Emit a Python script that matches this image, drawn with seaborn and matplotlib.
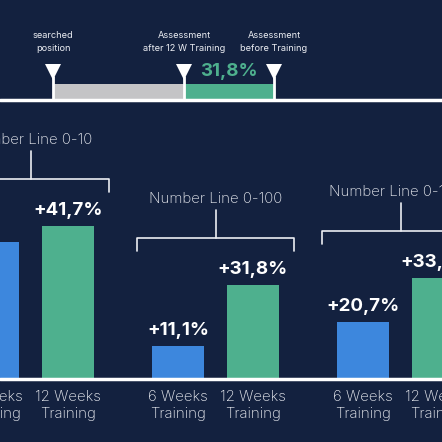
import matplotlib
matplotlib.use('Agg')
import numpy as np
import pandas as pd
import matplotlib.pyplot as plt
import seaborn as sns

BG = '#13213f'
BLUE = '#3d87dd'
GREEN = '#4eb08e'
GRAY = '#c4c4c6'
TEXT = '#eceef3'

# number line diagram, positions on a 0-100 line
marker_names = ['searched\nposition', 'Assessment\nafter 12 W Training', 'Assessment\nbefore Training']
marker_pos = [12.0, 41.6, 62.0]
gap_label = '31,8%'

# bar groups
groups = ['Number Line 0-10', 'Number Line 0-100', 'Number Line 0-1000']
trainings = ['6 Weeks\nTraining', '12 Weeks\nTraining']
gain_labels = [['+37,5%', '+41,7%'], ['+11,1%', '+31,8%'], ['+20,7%', '+33,9%']]
bar_heights = [[46.3, 51.7], [11.1, 31.8], [19.3, 34.1]]

sns.set_theme(style='white', rc={'axes.facecolor': BG, 'figure.facecolor': BG})
plt.rcParams['font.family'] = ['Inter', 'DejaVu Sans']

W, H = 442, 442
fig = plt.figure(figsize=(W / 100, H / 100), dpi=100)

# ---- top: number line ----
ax_top = fig.add_axes([0, 1 - 120 / H, 1, 120 / H])
ax_top.set_xlim(0, 100)
ax_top.set_ylim(120, 0)
ax_top.axis('off')

searched, after, before = marker_pos
ax_top.barh(91.5, after - searched, left=searched, height=15, color=GRAY, linewidth=0)
ax_top.barh(91.5, before - after, left=after, height=15, color=GREEN, linewidth=0)
ax_top.axhline(100.5, color='white', lw=2.5)
for name, pos in zip(marker_names, marker_pos):
    ax_top.plot([pos, pos], [76, 100], color='white', lw=2, solid_capstyle='butt')
    ax_top.plot([pos], [72.5], marker='v', markersize=11.5, color='white', markeredgewidth=0)
    ax_top.text(pos, 42, name, ha='center', va='center', color=TEXT, fontsize=6.6,
                linespacing=1.45)
ax_top.text((after + before) / 2, 72, gap_label, ha='center', va='center', color=GREEN,
            fontsize=13.5, fontweight='bold')

# ---- bars ----
rows = []
for g, group in enumerate(groups):
    for t, training in enumerate(trainings):
        rows.append({'group': group, 'training': training, 'height': bar_heights[g][t]})
df = pd.DataFrame(rows)

ax = fig.add_axes([0, (H - 379) / H, 1, (379 - 120) / H])
sns.barplot(data=df, x='group', y='height', hue='training', order=groups, hue_order=trainings,
            palette=[BLUE, GREEN], saturation=1, width=0.806, gap=0.305, errorbar=None,
            legend=False, linewidth=0, edgecolor='none', ax=ax)
ax.set_xlim(-30.5 / 185, (W - 30.5) / 185)
ax.set_ylim(0, 259 / 2.96)
ax.axis('off')
ax.axhline(0, color='white', lw=2.5, clip_on=False)

for t, cont in enumerate(ax.containers):
    ax.bar_label(cont, labels=[gain_labels[g][t] for g in range(len(groups))], padding=5,
                 color='white', fontsize=13.5, fontweight='bold')
    for bar in cont:
        cx = bar.get_x() + bar.get_width() / 2
        ax.annotate(trainings[t], (cx, 0), xytext=(0, -8), textcoords='offset points',
                    ha='center', va='top', color=TEXT, fontsize=10.8, fontweight='light',
                    linespacing=1.3, annotation_clip=False)

for g, group in enumerate(groups):
    top = max(bar_heights[g]) + 16
    half = 0.425
    ax.plot([g - half, g - half, g + half, g + half], [top - 4.4, top, top, top - 4.4],
            color=TEXT, lw=1.2, clip_on=False)
    ax.plot([g, g], [top, top + 9.2], color=TEXT, lw=1.2, clip_on=False)
    ax.annotate(group, (g, top + 9.2), xytext=(0, 3), textcoords='offset points',
                ha='center', va='bottom', color=TEXT, fontsize=10.8, fontweight='light',
                annotation_clip=False)

fig.savefig('out.png', dpi=100, facecolor=BG)
